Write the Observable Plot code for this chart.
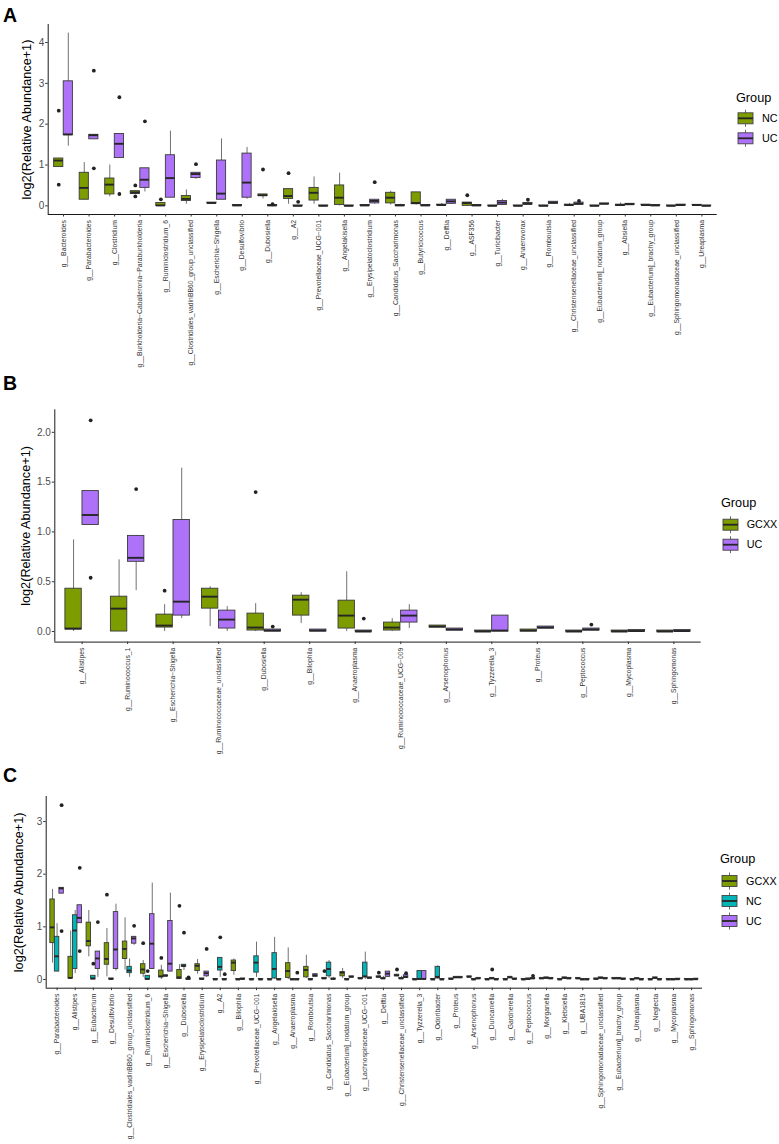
<!DOCTYPE html>
<html><head><meta charset="utf-8">
<script src="https://cdn.jsdelivr.net/npm/d3@7"></script>
<script src="https://cdn.jsdelivr.net/npm/@observablehq/plot@0.6"></script>
<style>
body{margin:0;background:#fff;font-family:"Liberation Sans",Arial,sans-serif;}
#root{position:relative;width:779px;height:1144px;overflow:hidden;background:#fff;}
#root svg.plotsvg{position:absolute;left:0;overflow:visible;}
</style></head><body><div id="root"></div>
<script>
// ---------- Panel A (NC vs UC) ----------
const A_categories = ["Bacteroides","Parabacteroides","Clostridium","Burkholderia\u2212Caballeronia\u2212Paraburkholderia","Ruminiclostridium_6","Clostridiales_vadinBB60_group_unclassified","Escherichia\u2212Shigella","Desulfovibrio","Dubosiella","A2","Prevotellaceae_UCG\u2212001","Angelakisella","Erysipelatoclostridium","Candidatus_Saccharimonas","Butyricicoccus","Delftia","ASF356","Turicibacter","Anaerovorax","Romboutsia","Christensenellaceae_unclassified","Eubacterium]_nodatum_group","Absiella","Eubacterium]_brachy_group","Sphingomonadaceae_unclassified","Ureaplasma"];
const A_groups = ["NC","UC"];
const A_colors = ["#7C9C00","#AE72F8"];
// [lower whisker, q1, median, q3, upper whisker]
const A_NC = [[0.95,0.95,1.11,1.16,1.16],[0.15,0.15,0.44,0.81,1.06],[0.22,0.28,0.52,0.67,1.0],[0.29,0.29,0.33,0.36,0.36],[0,0,0.01,0.07,0.07],[0.04,0.12,0.17,0.24,0.39],[0.06,0.06,0.07,0.08,0.08],[0,0,0.01,0.02,0.02],[0.17,0.24,0.26,0.28,0.28],[0.04,0.17,0.24,0.41,0.41],[0.04,0.13,0.32,0.44,0.71],[0,0.02,0.2,0.5,0.8],[0,0,0.01,0.02,0.02],[0.02,0.06,0.2,0.32,0.36],[0.02,0.04,0.07,0.33,0.33],[0.01,0.01,0.02,0.03,0.06],[0,0,0.07,0.08,0.08],[0,0,0,0.01,0.01],[0,0,0,0.01,0.01],[0,0,0,0.01,0.01],[0,0.01,0.02,0.03,0.06],[0,0,0,0.01,0.01],[0,0,0.02,0.03,0.07],[0.01,0.02,0.02,0.03,0.03],[0,0,0,0.01,0.01],[0.01,0.02,0.02,0.025,0.025]];
const A_UC = [[1.46,1.73,1.75,3.05,4.23],[1.63,1.63,1.73,1.74,1.74],[1.17,1.17,1.52,1.76,1.76],[0.34,0.44,0.64,0.92,0.92],[0.2,0.2,0.68,1.24,1.83],[0.65,0.68,0.78,0.81,0.81],[0.15,0.15,0.3,1.11,1.64],[0.16,0.2,0.57,1.28,1.43],[0,0,0.01,0.02,0.02],[0,0,0,0.01,0.01],[0,0,0,0.01,0.01],[0,0,0,0.01,0.01],[0.04,0.06,0.12,0.15,0.15],[0,0,0.01,0.02,0.04],[0,0,0.01,0.02,0.02],[0.04,0.05,0.11,0.15,0.15],[0,0,0.01,0.02,0.02],[0.02,0.02,0.08,0.12,0.16],[0.03,0.03,0.05,0.07,0.07],[0.05,0.05,0.08,0.1,0.1],[0.03,0.03,0.05,0.08,0.08],[0.04,0.04,0.05,0.06,0.06],[0.03,0.03,0.04,0.05,0.05],[0,0,0.01,0.02,0.02],[0.01,0.01,0.02,0.03,0.03],[0,0,0,0.01,0.01]];
// [category index, value]
const A_NC_outliers = [[0,2.33],[0,0.52],[3,0.5],[3,0.23],[4,0.16],[8,0.89],[9,0.8],[16,0.26]];
const A_UC_outliers = [[1,3.31],[1,0.92],[2,2.66],[2,0.29],[3,2.07],[5,1.02],[8,0.04],[9,0.1],[12,0.58],[18,0.15],[20,0.12]];
const A_yTicks = [0,1,2,3,4];

// ---------- Panel B (GCXX vs UC) ----------
const B_categories = ["Alistipes","Ruminococcus_1","Escherichia\u2212Shigella","Ruminococcaceae_unclassified","Dubosiella","Bilophila","Anaeroplasma","Ruminococcaceae_UCG\u2212009","Arsenophonus","Tyzzerella_3","Proteus","Peptococcus","Mycoplasma","Sphingomonas"];
const B_groups = ["GCXX","UC"];
const B_colors = ["#7C9C00","#AE72F8"];
const B_GCXX = [[0,0.02,0.03,0.43,0.92],[0,0,0.23,0.35,0.72],[0,0.04,0.06,0.17,0.27],[0.05,0.23,0.35,0.43,0.45],[0,0.01,0.04,0.18,0.28],[0.08,0.16,0.32,0.36,0.39],[0,0.03,0.16,0.31,0.6],[0,0.01,0.04,0.09,0.13],[0.04,0.04,0.05,0.06,0.06],[0,0,0,0.01,0.01],[0,0,0.01,0.02,0.02],[0,0,0,0.01,0.01],[0,0,0,0.01,0.01],[0,0,0,0.01,0.01]];
const B_UC = [[1.07,1.07,1.17,1.41,1.41],[0.41,0.7,0.74,0.96,0.96],[0.13,0.16,0.3,1.12,1.64],[0,0.03,0.12,0.21,0.25],[0,0,0.01,0.02,0.02],[0,0,0.01,0.02,0.02],[0,0,0,0.01,0.01],[0.03,0.09,0.16,0.21,0.27],[0.01,0.01,0.02,0.03,0.03],[0,0,0.01,0.16,0.16],[0.03,0.03,0.04,0.05,0.05],[0.01,0.01,0.02,0.03,0.03],[0,0,0.005,0.015,0.015],[0,0,0.005,0.015,0.015]];
const B_GCXX_outliers = [[2,0.41],[4,1.40]];
const B_UC_outliers = [[0,2.12],[0,0.54],[1,1.43],[4,0.05],[6,0.13],[11,0.07]];
const B_yTicks = [0,0.5,1,1.5,2];

// ---------- Panel C (GCXX, NC, UC) ----------
const C_categories = ["Parabacteroides","Alistipes","Eubacterium","Desulfovibrio","Clostridiales_vadinBB60_group_unclassified","Ruminiclostridium_6","Escherichia\u2212Shigella","Dubosiella","Erysipelatoclostridium","A2","Bilophila","Prevotellaceae_UCG\u2212001","Angelakisella","Anaeroplasma","Romboutsia","Candidatus_Saccharimonas","Eubacterium]_nodatum_group","Lachnospiraceae_UCG\u2212001","Delftia","Christensenellaceae_unclassified","Tyzzerella_3","Odoribacter","Proteus","Arsenophonus","Duncaniella","Gardnerella","Peptococcus","Morganella","Klebsiella","UBA1819","Sphingomonadaceae_unclassified","Eubacterium]_brachy_group","Ureaplasma","Neglecta","Mycoplasma","Sphingomonas"];
const C_groups = ["GCXX","NC","UC"];
const C_colors = ["#7C9C00","#00B5B8","#AE72F8"];
const C_GCXX = [[0.31,0.69,0.99,1.52,1.71],[0,0.02,0.03,0.43,0.92],[0.43,0.63,0.73,1.08,1.31],[0.05,0.28,0.39,0.69,0.97],[0.18,0.39,0.58,0.72,1.17],[0.04,0.11,0.19,0.29,0.36],[0,0.04,0.06,0.17,0.27],[0,0.01,0.04,0.18,0.28],[0.1,0.16,0.26,0.29,0.38],[0,0,0,0.01,0.01],[0.08,0.16,0.32,0.36,0.39],[0,0,0,0.01,0.01],[0,0,0,0.01,0.01],[0,0.03,0.16,0.31,0.6],[0.02,0.04,0.18,0.24,0.46],[0,0.01,0.02,0.03,0.03],[0.02,0.06,0.13,0.14,0.21],[0.01,0.01,0.02,0.03,0.03],[0.03,0.04,0.05,0.06,0.07],[0.05,0.06,0.08,0.09,0.1],[0,0,0,0.01,0.01],[0,0,0,0.01,0.01],[0,0,0.01,0.02,0.02],[0.04,0.04,0.05,0.06,0.06],[0,0,0,0.01,0.01],[0,0,0,0.01,0.01],[0,0,0,0.01,0.01],[0.01,0.01,0.02,0.03,0.03],[0,0,0,0.01,0.01],[0.01,0.01,0.02,0.03,0.03],[0,0,0.01,0.02,0.02],[0.01,0.01,0.02,0.03,0.03],[0,0,0,0.01,0.01],[0,0,0,0.01,0.01],[0,0,0,0.01,0.01],[0,0,0,0.01,0.01]];
const C_NC = [[0.15,0.15,0.44,0.81,1.06],[0.11,0.2,0.93,1.22,1.31],[0,0,0.02,0.07,0.07],[0,0,0.01,0.02,0.02],[0.04,0.12,0.17,0.24,0.39],[0,0,0.01,0.07,0.07],[0.06,0.06,0.07,0.08,0.08],[0.17,0.24,0.26,0.28,0.28],[0,0,0.01,0.02,0.02],[0.04,0.17,0.24,0.41,0.41],[0,0,0,0.01,0.01],[0.04,0.13,0.32,0.44,0.71],[0,0.02,0.2,0.5,0.8],[0,0,0,0.01,0.01],[0,0,0,0.01,0.01],[0.02,0.06,0.2,0.32,0.36],[0,0,0,0.01,0.01],[0,0.04,0.06,0.32,0.52],[0.01,0.01,0.02,0.03,0.06],[0,0.01,0.02,0.03,0.06],[0,0,0.01,0.16,0.16],[0,0.02,0.05,0.24,0.26],[0.03,0.03,0.04,0.05,0.05],[0,0,0,0.01,0.01],[0,0.01,0.02,0.03,0.03],[0.02,0.03,0.04,0.05,0.06],[0,0,0.01,0.02,0.02],[0.02,0.02,0.03,0.04,0.04],[0.02,0.02,0.03,0.04,0.04],[0,0,0,0.01,0.01],[0.02,0.02,0.03,0.04,0.04],[0.01,0.02,0.02,0.03,0.03],[0.01,0.02,0.02,0.025,0.025],[0.02,0.02,0.03,0.04,0.04],[0,0,0,0.01,0.01],[0,0,0,0.01,0.01]];
const C_UC = [[1.63,1.63,1.73,1.74,1.74],[1.07,1.07,1.17,1.41,1.41],[0.04,0.2,0.4,0.53,0.53],[0.16,0.2,0.57,1.28,1.43],[0.65,0.68,0.78,0.81,0.81],[0.2,0.2,0.68,1.24,1.83],[0.15,0.15,0.3,1.11,1.64],[0,0,0.01,0.02,0.02],[0.04,0.06,0.12,0.15,0.15],[0,0,0,0.01,0.01],[0,0,0.01,0.02,0.02],[0,0,0,0.01,0.01],[0,0,0,0.01,0.01],[0,0,0,0.01,0.01],[0.05,0.05,0.08,0.1,0.1],[0,0,0.01,0.02,0.04],[0.04,0.04,0.05,0.06,0.06],[0.02,0.02,0.03,0.04,0.04],[0.04,0.05,0.11,0.15,0.15],[0.03,0.03,0.05,0.08,0.08],[0,0,0.01,0.16,0.16],[0,0,0,0.01,0.01],[0.03,0.03,0.04,0.05,0.05],[0.01,0.01,0.02,0.03,0.03],[0,0,0,0.01,0.01],[0,0,0.01,0.02,0.02],[0.01,0.01,0.02,0.03,0.03],[0.01,0.01,0.02,0.03,0.03],[0.01,0.01,0.02,0.03,0.03],[0,0,0,0.01,0.01],[0.01,0.01,0.02,0.03,0.03],[0,0,0.01,0.02,0.02],[0,0,0,0.01,0.01],[0,0,0,0.01,0.01],[0,0,0.005,0.015,0.015],[0,0,0.005,0.015,0.015]];
const C_GCXX_outliers = [[3,1.61],[5,0.69],[6,0.41],[7,1.40],[15,0.16],[18,0.13],[19,0.19]];
const C_NC_outliers = [[2,0.3],[5,0.16],[7,0.89],[9,0.8],[24,0.19]];
const C_UC_outliers = [[0,3.31],[0,0.92],[1,2.12],[1,0.54],[2,1.09],[4,1.02],[7,0.04],[8,0.58],[9,0.1],[13,0.13],[19,0.12],[26,0.07]];
const C_yTicks = [0,1,2,3];

const Y_TITLE = "log2(Relative Abundance+1)";
const FONT = "'Liberation Sans', Arial, Helvetica, sans-serif";

function buildBoxes(cats, groups, statArrays, offsets, w) {
  const out = [];
  groups.forEach((g, gi) => statArrays[gi].forEach((s, i) => {
    const xc = i + 1 + offsets[gi];
    out.push({cat: cats[i], group: g, xc, xl: xc - w/2, xr: xc + w/2, lw: s[0], q1: s[1], med: s[2], q3: s[3], uw: s[4]});
  }));
  return out;
}
function buildOutliers(groups, outArrays, offsets) {
  const out = [];
  groups.forEach((g, gi) => outArrays[gi].forEach(([i, v]) => out.push({group: g, x: i + 1 + offsets[gi], y: v})));
  return out;
}

function panel(cfg) {
  const n = cfg.cats.length;
  const ng = cfg.groups.length;
  const offsets = ng === 2 ? [-0.1875, 0.1875] : [-0.25, 0, 0.25];
  const w = ng === 2 ? 0.36 : 0.245;
  const boxes = buildBoxes(cfg.cats, cfg.groups, cfg.stats, offsets, w);
  const outs = buildOutliers(cfg.groups, cfg.outs, offsets);
  const ymax = d3.max([...boxes.map(d => d.uw), ...outs.map(d => d.y)]);
  const ymin = 0;
  const pad = (ymax - ymin) * 0.05;
  const y0 = ymin - pad, y1 = ymax + pad;
  const svg = Plot.plot({
    width: 779, height: cfg.height,
    marginTop: cfg.mt, marginBottom: cfg.mb, marginLeft: cfg.ml, marginRight: cfg.mr,
    style: {fontFamily: FONT, background: "transparent", overflow: "visible"},
    x: {type: "linear", domain: [0.4, n + 0.6]},
    y: {domain: [y0, y1]},
    color: {domain: cfg.groups, range: cfg.colors},
    marks: [
      Plot.ruleX(boxes, {x: "xc", y1: "lw", y2: "uw", stroke: "#333", strokeWidth: 0.7}),
      Plot.rect(boxes, {x1: "xl", x2: "xr", y1: "q1", y2: "q3", fill: "group", stroke: "#3a3a3a", strokeWidth: 0.9}),
      Plot.ruleY(boxes, {y: "med", x1: "xl", x2: "xr", stroke: "#262626", strokeWidth: 1.9}),
      Plot.dot(outs, {x: "x", y: "y", r: 1.9, fill: "#222", stroke: null}),
      Plot.ruleX([0.4], {stroke: "#000", strokeWidth: 0.9}),
      Plot.ruleY([y0], {stroke: "#000", strokeWidth: 0.9}),
      Plot.axisX(d3.range(1, n + 1), {tickFormat: i => "g__" + cfg.cats[i - 1], tickRotate: -90, fontSize: 6.8, tickSize: 2.5, tickPadding: 3, label: null, stroke: "#333", fill: "#333"}),
      Plot.axisY(cfg.yTicks, {tickFormat: cfg.yFmt, tickSize: 2.5, tickPadding: 1.5, fontSize: 10, label: null, stroke: "#333", fill: "#4d4d4d"}),
      Plot.text([Y_TITLE], {text: d => d, frameAnchor: "left", rotate: -90, textAnchor: "middle", lineAnchor: "top", dx: cfg.titleDx, fontSize: 12.7, fill: "#000"})
    ]
  });
  svg.classList.add("plotsvg");
  svg.style.top = cfg.top + "px";
  document.getElementById("root").appendChild(svg);
}

panel({cats: A_categories, groups: A_groups, colors: A_colors, stats: [A_NC, A_UC], outs: [A_NC_outliers, A_UC_outliers],
  top: 0, height: 370, mt: 24, mb: 156, ml: 47.7, mr: 62.3, yTicks: A_yTicks, yFmt: d3.format("d"), titleDx: -26});
panel({cats: B_categories, groups: B_groups, colors: B_colors, stats: [B_GCXX, B_UC], outs: [B_GCXX_outliers, B_UC_outliers],
  top: 375, height: 330, mt: 34.3, mb: 63.4, ml: 54.3, mr: 78.3, yTicks: B_yTicks, yFmt: d3.format(".1f"), titleDx: -34});
panel({cats: C_categories, groups: C_groups, colors: C_colors, stats: [C_GCXX, C_NC, C_UC], outs: [C_GCXX_outliers, C_NC_outliers, C_UC_outliers],
  top: 710, height: 434, mt: 86, mb: 156.3, ml: 45.7, mr: 77, yTicks: C_yTicks, yFmt: d3.format("d"), titleDx: -32.4});

// overlay: panel tags and legends
const overlay = d3.select("#root").append("svg").attr("width", 779).attr("height", 1144)
  .style("position", "absolute").style("left", 0).style("top", 0).style("font-family", FONT);
[["A", 22], ["B", 390], ["C", 782]].forEach(([t, y]) =>
  overlay.append("text").attr("x", 3).attr("y", y).attr("font-size", 19.5).attr("font-weight", "bold").attr("fill", "#000").text(t));

function legend(groups, colors, x0, titleBase, firstCenter, labelX) {
  overlay.append("text").attr("x", x0).attr("y", titleBase).attr("font-size", 12.7).attr("fill", "#000").text("Group");
  groups.forEach((g, i) => {
    const cy = firstCenter + i * 20;
    const gx = x0 + 2;
    overlay.append("line").attr("x1", gx + 7.5).attr("x2", gx + 7.5).attr("y1", cy - 8.5).attr("y2", cy + 8.5).attr("stroke", "#444").attr("stroke-width", 0.8);
    overlay.append("rect").attr("x", gx).attr("y", cy - 5.5).attr("width", 15).attr("height", 11).attr("fill", colors[i]).attr("stroke", "#444").attr("stroke-width", 0.9);
    overlay.append("line").attr("x1", gx).attr("x2", gx + 15).attr("y1", cy).attr("y2", cy).attr("stroke", "#262626").attr("stroke-width", 1.8);
    overlay.append("text").attr("x", labelX).attr("y", cy).attr("dy", "0.35em").attr("font-size", 10.8).attr("fill", "#000").text(g);
  });
}
legend(A_groups, A_colors, 736, 101.5, 118.3, 762);
legend(B_groups, B_colors, 721, 506.5, 524.7, 746.7);
legend(C_groups, C_colors, 720, 862.5, 881, 746);
</script></body></html>
